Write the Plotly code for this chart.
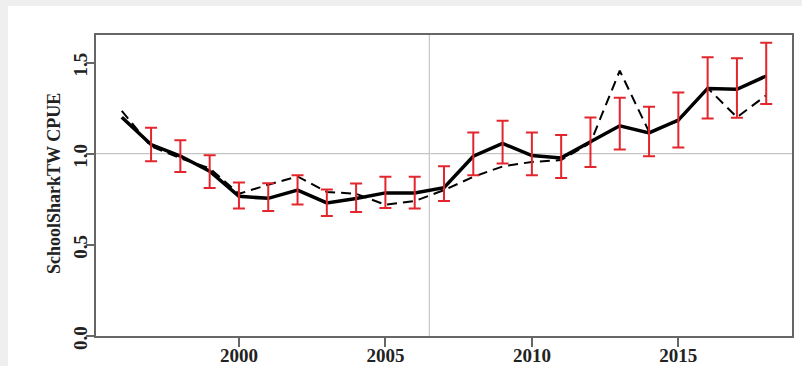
import plotly.graph_objects as go

years = list(range(1996, 2019))
cpue_std = [1.20, 1.05, 0.987, 0.904, 0.766, 0.755, 0.80, 0.73, 0.754, 0.785, 0.785,
            0.814, 0.986, 1.056, 0.99, 0.977, 1.065, 1.153, 1.114, 1.184, 1.358, 1.353, 1.426]
cpue_upper = [None, 1.142, 1.074, 0.992, 0.842, 0.838, 0.882, 0.803, 0.836, 0.873, 0.873,
              0.931, 1.116, 1.180, 1.116, 1.102, 1.199, 1.307, 1.257, 1.336, 1.529, 1.523, 1.609]
cpue_lower = [None, 0.959, 0.900, 0.812, 0.699, 0.686, 0.721, 0.658, 0.680, 0.702, 0.699,
              0.740, 0.882, 0.946, 0.882, 0.867, 0.927, 1.023, 0.986, 1.034, 1.193, 1.197, 1.272]
cpue_nominal = [1.235, 1.04, 0.975, 0.92, 0.78, 0.83, 0.875, 0.79, 0.78, 0.72, 0.74,
                0.80, 0.873, 0.93, 0.955, 0.965, 1.06, 1.455, 1.12, 1.18, 1.36, 1.20, 1.32]
x_ticks = [2000, 2005, 2010, 2015]
y_ticks = [0.0, 0.5, 1.0, 1.5]
y_tick_labels = ["0.0", "0.5", "1.0", "1.5"]
vline_year = 2006.5
hline_value = 1.0

err_years = [y for y, u in zip(years, cpue_upper) if u is not None]
err_mid = [m for m, u in zip(cpue_std, cpue_upper) if u is not None]
err_plus = [u - m for m, u in zip(cpue_std, cpue_upper) if u is not None]
err_minus = [m - l for m, l in zip(cpue_std, cpue_lower) if l is not None]

fig = go.Figure()

fig.add_trace(go.Scatter(x=years, y=cpue_nominal, mode="lines",
                         line=dict(color="black", width=2, dash="10px,6px"),
                         showlegend=False, hoverinfo="skip"))
fig.add_trace(go.Scatter(x=years, y=cpue_std, mode="lines",
                         line=dict(color="black", width=3.5),
                         showlegend=False))
fig.add_trace(go.Scatter(x=err_years, y=err_mid, mode="markers",
                         marker=dict(size=1, color="rgba(0,0,0,0)"),
                         error_y=dict(type="data", symmetric=False, array=err_plus,
                                      arrayminus=err_minus, color="#e3262d",
                                      thickness=2, width=6),
                         showlegend=False))

# white panel over the light grey page (drawn first, below everything)
fig.add_shape(type="rect", xref="paper", yref="paper", x0=-0.1264, x1=1.06, y0=-0.25, y1=1.0965,
              fillcolor="white", line=dict(width=0), layer="below")
grid_col = "#c6c6c6"
fig.add_shape(type="line", xref="paper", yref="y", x0=0, x1=1, y0=hline_value, y1=hline_value,
              line=dict(color=grid_col, width=1.2), layer="below")
fig.add_shape(type="line", xref="x", yref="paper", x0=vline_year, x1=vline_year, y0=0, y1=1,
              line=dict(color=grid_col, width=1.2), layer="below")

font_fam = "Liberation Serif"
fig.add_annotation(text="<b>SchoolSharkTW CPUE</b>", xref="paper", yref="paper",
                   x=-0.0603, y=0.505, xanchor="center", yanchor="middle", textangle=-90,
                   showarrow=False, font=dict(family=font_fam, size=18, color="#222"))

axis_common = dict(showline=True, mirror=True, linecolor="#666", linewidth=1.5,
                   ticks="outside", tickcolor="#666", tickwidth=1.5, showgrid=False,
                   zeroline=False, automargin=False,
                   tickfont=dict(family=font_fam, size=19, color="#222", weight="bold"))

fig.update_layout(
    width=802, height=366,
    margin=dict(l=96, r=10, t=35, b=30),
    paper_bgcolor="#efefef",
    plot_bgcolor="rgba(0,0,0,0)",
    xaxis=dict(range=[1995.12, 2018.88], tickvals=x_ticks, ticklen=9, ticklabelstandoff=-8,
               **axis_common),
    yaxis=dict(range=[0, 1.651], tickvals=y_ticks, ticktext=y_tick_labels, ticklen=8,
               tickangle=-90, ticklabelstandoff=-8, ticklabelshift=5, **axis_common),
)

fig.write_html("out.html")
